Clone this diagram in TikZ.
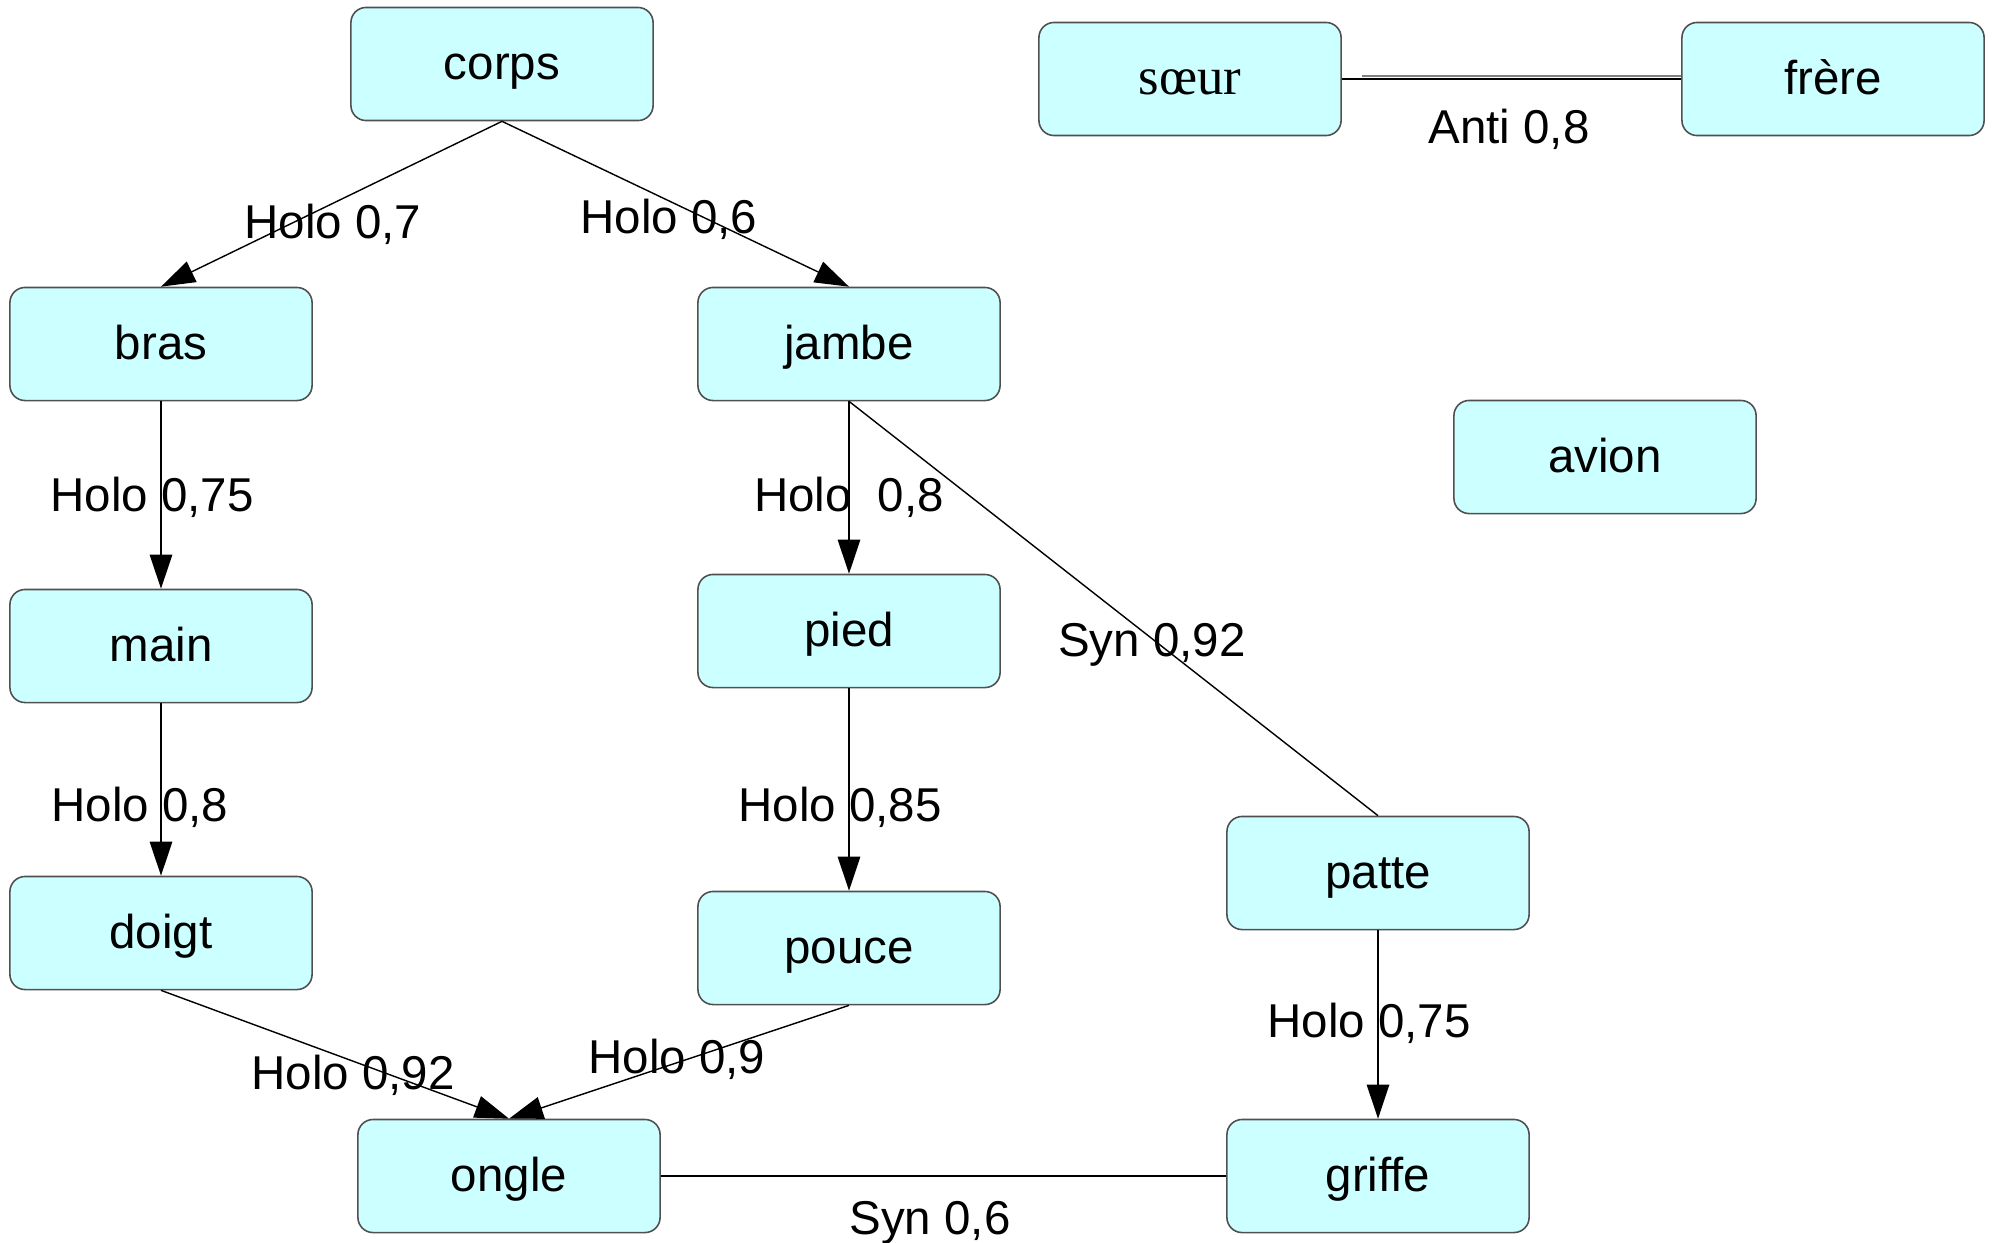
\documentclass[tikz,border=0pt]{standalone}
\usepackage{fontspec}
\setmainfont{Liberation Sans}
\newfontfamily\serifw{Liberation Serif}
\usetikzlibrary{arrows.meta}
\definecolor{boxcyan}{RGB}{204,255,255}
\definecolor{boxline}{RGB}{80,80,80}
\begin{document}
\begin{tikzpicture}[x=0.01cm, y=-0.01cm,
			font=\fontsize{13.5}{16}\selectfont,
			mot/.style={draw=boxline, fill=boxcyan, rounded corners=4.3pt, line width=0.45pt,
				minimum width=3.02cm, minimum height=1.13cm, inner sep=0pt,
				text height=8.8pt, text depth=0pt},
			rel/.style={line width=0.4pt},
			holo/.style={rel, -{Triangle[length=9.7pt, width=6.4pt]}},
			lbl/.style={inner sep=0pt, text height=10pt, text depth=0pt}]
			\useasboundingbox (0,0) rectangle (1992,1242);
			% les mots
			\node[mot] (corps)  at (502, 64)   {corps};
			\node[mot] (soeur)  at (1190, 79)  {\serifw\fontsize{15}{18}\selectfont sœur};
			\node[mot] (frere)  at (1833, 79)  {frère};
			\node[mot] (bras)   at (161, 344)  {bras};
			\node[mot] (jambe)  at (849, 344)  {jambe};
			\node[mot] (avion)  at (1605, 457) {avion};
			\node[mot] (main)   at (161, 646)  {main};
			\node[mot] (pied)   at (849, 631)  {pied};
			\node[mot] (patte)  at (1378, 873) {patte};
			\node[mot] (doigt)  at (161, 933)  {doigt};
			\node[mot] (pouce)  at (849, 948)  {pouce};
			\node[mot] (ongle)  at (509, 1176) {ongle};
			\node[mot] (griffe) at (1378, 1176) {griffe};
			% relations holonymie
			\draw[holo] (corps.south) -- (bras.north);
			\draw[holo] (corps.south) -- (jambe.north);
			\draw[holo] (bras.south)  -- (main.north);
			\draw[holo] (main.south)  -- (doigt.north);
			\draw[holo] (jambe.south) -- (pied.north);
			\draw[holo] (pied.south)  -- (pouce.north);
			\draw[holo] (patte.south) -- (griffe.north);
			\draw[holo] (doigt.south) -- (ongle.north);
			\draw[holo] (pouce.south) -- (ongle.north);
			% synonymie / antonymie
			\draw[rel] (jambe.south) -- (patte.north);
			\draw[rel] (ongle.east)  -- (griffe.west);
			\draw[rel] (soeur.east)  -- (frere.west);
			\coordinate (anti) at ([shift={(20,-3)}]soeur.east);
			\draw[rel, gray] (anti) -- (anti -| frere.west);
			% etiquettes
			\node[lbl] (l1)  at (333, 221)  {Holo 0,7};
			\node[lbl] (l2)  at (669, 216)  {Holo 0,6};
			\node[lbl] (l3)  at (1509, 126) {Anti 0,8};
			\node[lbl] (l4)  at (152, 494)  {Holo 0,75};
			\node[lbl] (l5)  at (849, 494)  {Holo\ \ 0,8};
			\node[lbl] (l6)  at (1152, 639) {Syn 0,92};
			\node[lbl] (l7)  at (140, 804)  {Holo 0,8};
			\node[lbl] (l8)  at (840, 804)  {Holo 0,85};
			\node[lbl] (l9)  at (1369, 1020) {Holo 0,75};
			\node[lbl] (l10) at (353, 1072) {Holo 0,92};
			\node[lbl] (l11) at (677, 1056) {Holo 0,9};
			\node[lbl] (l12) at (930, 1217) {Syn 0,6};
		\end{tikzpicture}
\end{document}
